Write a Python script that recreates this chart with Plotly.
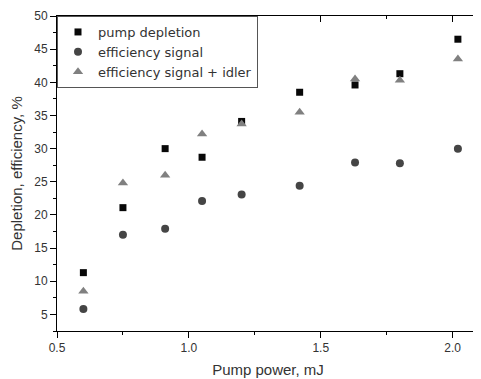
import plotly.graph_objects as go

pump_power = [0.60, 0.75, 0.91, 1.05, 1.20, 1.42, 1.63, 1.80, 2.02]
pump_depletion = [11.3, 21.1, 30.0, 28.7, 34.1, 38.5, 39.6, 41.3, 46.5]
efficiency_signal = [5.8, 17.0, 17.9, 22.1, 23.1, 24.4, 27.9, 27.8, 30.0]
efficiency_signal_idler = [8.5, 24.8, 26.0, 32.2, 33.7, 35.5, 40.5, 40.3, 43.5]

x_ticks = [0.5, 1.0, 1.5, 2.0]
y_ticks = [5, 10, 15, 20, 25, 30, 35, 40, 45, 50]

FONT = "Liberation Sans, Arial, sans-serif"
TXT = "#333333"

fig = go.Figure()
fig.add_trace(go.Scatter(x=pump_power, y=pump_depletion, mode="markers", name="pump depletion",
                         marker=dict(symbol="square", size=7, color="#080808")))
fig.add_trace(go.Scatter(x=pump_power, y=efficiency_signal, mode="markers", name="efficiency signal",
                         marker=dict(symbol="circle", size=8, color="#454545")))
fig.add_trace(go.Scatter(x=pump_power, y=efficiency_signal_idler, mode="markers", name="efficiency signal + idler",
                         marker=dict(symbol="triangle-up", size=9, color="#808080")))
# mirror axes (top/right) carrying inward ticks
fig.add_trace(go.Scatter(x=[], y=[], xaxis="x2", yaxis="y2", showlegend=False, hoverinfo="skip"))

xr = [0.5, 2.1]
yr = [2.5, 50]

# the page body adds an 8px offset; figure is sized to fit the 481x379 window
fig.update_layout(
    width=473, height=371,
    margin=dict(l=49, r=2, t=8, b=48),
    paper_bgcolor="white", plot_bgcolor="white",
    font=dict(family=FONT, color=TXT, size=12),
    showlegend=True,
    legend=dict(x=0, y=1, xanchor="left", yanchor="top", bgcolor="white",
                bordercolor="#555555", borderwidth=1,
                font=dict(size=13, color=TXT, family="DejaVu Sans, Liberation Sans, sans-serif"),
                tracegroupgap=0, itemsizing="trace"),
    xaxis=dict(range=xr, tickvals=x_ticks, ticktext=[f"{v:.1f}" for v in x_ticks],
               ticks="outside", ticklen=6, tickcolor="black", showline=True, linecolor="black",
               linewidth=1, showgrid=False, zeroline=False, automargin=False,
               minor=dict(dtick=0.25, tick0=0.5, ticks="outside", ticklen=3, tickcolor="black", showgrid=False),
               tickfont=dict(size=12, color=TXT),
               title=dict(text="Pump power, mJ", font=dict(size=15, color=TXT), standoff=10)),
    yaxis=dict(range=yr, tickvals=y_ticks, ticks="outside", ticklen=6, tickcolor="black",
               showline=True, linecolor="black", linewidth=1, showgrid=False, zeroline=False,
               automargin=False,
               minor=dict(dtick=2.5, tick0=2.5, ticks="outside", ticklen=3, tickcolor="black", showgrid=False),
               tickfont=dict(size=12, color=TXT),
               title=dict(text="Depletion, efficiency, %", font=dict(size=15, color=TXT), standoff=8)),
    xaxis2=dict(range=xr, overlaying="x", side="top", tickvals=x_ticks, showticklabels=False,
                ticks="inside", ticklen=6, tickcolor="black", showline=True, linecolor="black",
                linewidth=1, showgrid=False, zeroline=False,
                minor=dict(dtick=0.25, tick0=0.5, ticks="inside", ticklen=3, tickcolor="black", showgrid=False)),
    yaxis2=dict(range=yr, overlaying="y", side="right", tickvals=y_ticks, showticklabels=False,
                ticks="inside", ticklen=6, tickcolor="black", showline=True, linecolor="black",
                linewidth=1, showgrid=False, zeroline=False,
                minor=dict(dtick=2.5, tick0=2.5, ticks="inside", ticklen=3, tickcolor="black", showgrid=False)),
)

fig.write_html("out.html")
